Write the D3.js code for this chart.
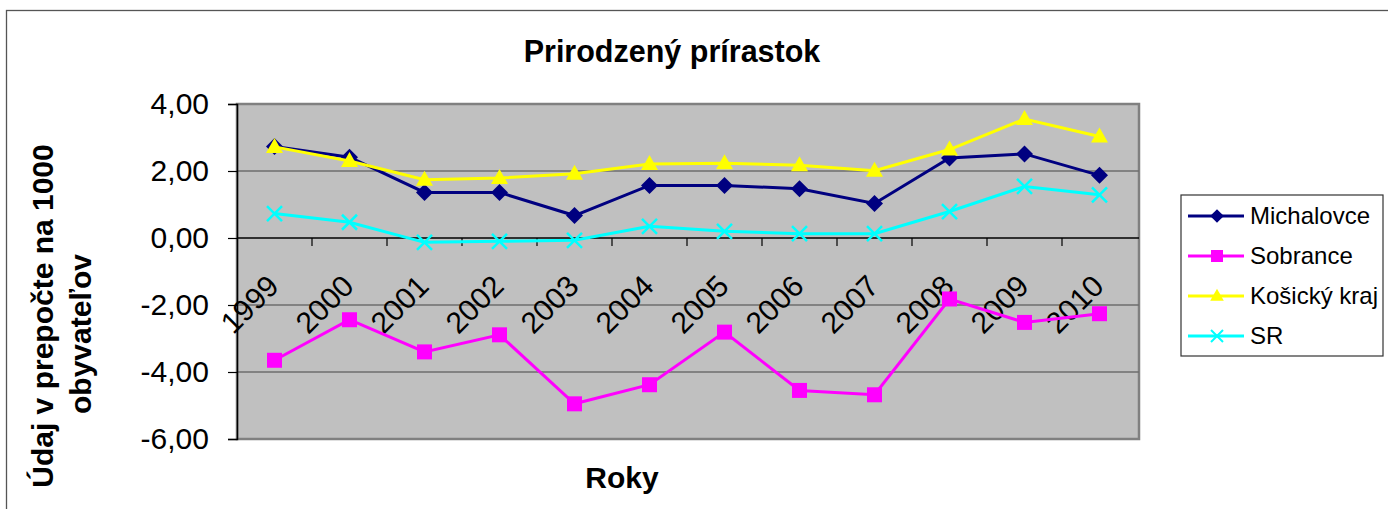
<!DOCTYPE html>
<html>
<head>
<meta charset="utf-8">
<script src="https://cdn.jsdelivr.net/npm/d3@7"></script>
<style>
  body { margin: 0; background: #fff; }
  text { font-family: "Liberation Sans", Arial, sans-serif; }
</style>
</head>
<body>
<svg width="1388" height="509"></svg>
<script>
// data
var years = ["1999","2000","2001","2002","2003","2004","2005","2006","2007","2008","2009","2010"];
var michalovce = [2.73, 2.41, 1.36, 1.36, 0.67, 1.57, 1.57, 1.47, 1.03, 2.39, 2.51, 1.87];
var sobrance   = [-3.65, -2.44, -3.40, -2.89, -4.95, -4.38, -2.81, -4.55, -4.68, -1.82, -2.52, -2.26];
var kosicky    = [2.72, 2.30, 1.74, 1.79, 1.92, 2.21, 2.23, 2.17, 2.01, 2.64, 3.55, 3.03];
var sr         = [0.73, 0.47, -0.13, -0.10, -0.07, 0.35, 0.20, 0.13, 0.13, 0.79, 1.54, 1.29];
var yTicks = [-6, -4, -2, 0, 2, 4];

var series = [
  { name: "Michalovce", values: michalovce, color: "#000080", marker: "diamond" },
  { name: "Sobrance", values: sobrance, color: "#FF00FF", marker: "square" },
  { name: "Košický kraj", values: kosicky, color: "#FFFF00", marker: "triangle" },
  { name: "SR", values: sr, color: "#00FFFF", marker: "x" }
];

var svg = d3.select("svg");

var plot = { left: 237, top: 104, right: 1139, bottom: 439 };

var x = d3.scaleBand().domain(years).range([plot.left, plot.right - 2]);
var y = d3.scaleLinear().domain([-6, 4]).range([plot.bottom, plot.top]);
var fmt = function (d) { return d.toFixed(2).replace(".", ","); };

// chart frame
svg.append("rect")
  .attr("x", 6.5).attr("y", 10.5).attr("width", 1400).attr("height", 600)
  .attr("fill", "#fff").attr("stroke", "#555").attr("stroke-width", 1.3);

// plot area
svg.append("rect")
  .attr("x", plot.left).attr("y", plot.top)
  .attr("width", plot.right - plot.left).attr("height", plot.bottom - plot.top)
  .attr("fill", "#C0C0C0").attr("stroke", "#808080").attr("stroke-width", 2.5);

// gridlines
svg.append("g").selectAll("line")
  .data(yTicks.filter(function (d) { return d !== 0 && d !== 4 && d !== -6; }))
  .enter().append("line")
  .attr("x1", plot.left).attr("x2", plot.right)
  .attr("y1", function (d) { return y(d); }).attr("y2", function (d) { return y(d); })
  .attr("stroke", "#6e6e6e").attr("stroke-width", 1.5);

// y axis
var yAxis = svg.append("g")
  .attr("transform", "translate(" + plot.left + ",0)")
  .call(d3.axisLeft(y).tickValues(yTicks).tickFormat(fmt).tickSize(9).tickPadding(19));
yAxis.select(".domain").attr("stroke", "#000").attr("stroke-width", 1.5);
yAxis.selectAll(".tick line").attr("stroke", "#000").attr("stroke-width", 1.2);
yAxis.selectAll("text").attr("font-size", 30).attr("fill", "#000")
  .attr("font-family", "Liberation Sans, Arial, sans-serif");

// x axis at zero
var xAxis = svg.append("g")
  .attr("transform", "translate(0," + y(0) + ")");
xAxis.append("line")
  .attr("x1", plot.left).attr("x2", plot.right)
  .attr("stroke", "#000").attr("stroke-width", 1.5);
xAxis.selectAll(".tk")
  .data(years.slice(1))
  .enter().append("line")
  .attr("x1", function (d) { return x(d); }).attr("x2", function (d) { return x(d); })
  .attr("y1", 0).attr("y2", 8)
  .attr("stroke", "#000").attr("stroke-width", 1.2);
xAxis.selectAll("text")
  .data(years)
  .enter().append("text")
  .attr("transform", function (d) {
    return "translate(" + (x(d) + x.bandwidth() / 2 + 6) + ",50) rotate(-45)";
  })
  .attr("text-anchor", "end")
  .attr("font-size", 30)
  .text(function (d) { return d; });

// markers
function markerPath(type) {
  if (type === "diamond") return "M0,-8.5L8.5,0L0,8.5L-8.5,0Z";
  if (type === "square") return "M-7.5,-7.5H7.5V7.5H-7.5Z";
  if (type === "triangle") return "M0,-9L8.5,6L-8.5,6Z";
  return "M-7.5,-7.5L7.5,7.5M-7.5,7.5L7.5,-7.5";
}

var line = d3.line()
  .x(function (d, i) { return x(years[i]) + x.bandwidth() / 2; })
  .y(function (d) { return y(d); });

series.forEach(function (s) {
  var g = svg.append("g");
  g.append("path")
    .attr("d", line(s.values))
    .attr("fill", "none").attr("stroke", s.color).attr("stroke-width", 3);
  g.selectAll("path.m")
    .data(s.values)
    .enter().append("path")
    .attr("class", "m")
    .attr("transform", function (d, i) {
      return "translate(" + (x(years[i]) + x.bandwidth() / 2) + "," + y(d) + ")";
    })
    .attr("d", markerPath(s.marker))
    .attr("fill", s.marker === "x" ? "none" : s.color)
    .attr("stroke", s.marker === "x" ? s.color : "none")
    .attr("stroke-width", 2.5);
});

// title
svg.append("text")
  .attr("x", 672).attr("y", 62)
  .attr("text-anchor", "middle")
  .attr("font-size", 30.5).attr("font-weight", "bold")
  .text("Prirodzený prírastok");

// axis titles
svg.append("text")
  .attr("x", 622).attr("y", 488)
  .attr("text-anchor", "middle")
  .attr("font-size", 30).attr("font-weight", "bold")
  .text("Roky");

svg.append("text")
  .attr("transform", "translate(53,316) rotate(-90)")
  .attr("text-anchor", "middle")
  .attr("font-size", 30).attr("font-weight", "bold")
  .text("Údaj v prepočte na 1000");
svg.append("text")
  .attr("transform", "translate(91,334) rotate(-90)")
  .attr("text-anchor", "middle")
  .attr("font-size", 30).attr("font-weight", "bold")
  .text("obyvateľov");

// legend
var legend = svg.append("g").attr("transform", "translate(1181,195)");
legend.append("rect")
  .attr("width", 202).attr("height", 161)
  .attr("fill", "#fff").attr("stroke", "#333").attr("stroke-width", 1.2);

var item = legend.selectAll("g.item")
  .data(series)
  .enter().append("g")
  .attr("class", "item")
  .attr("transform", function (d, i) { return "translate(0," + (21 + i * 40) + ")"; });
item.append("line")
  .attr("x1", 7).attr("x2", 63)
  .attr("stroke", function (d) { return d.color; }).attr("stroke-width", 3);
item.append("path")
  .attr("transform", "translate(36,0) scale(0.8)")
  .attr("d", function (d) { return markerPath(d.marker); })
  .attr("fill", function (d) { return d.marker === "x" ? "none" : d.color; })
  .attr("stroke", function (d) { return d.marker === "x" ? d.color : "none"; })
  .attr("stroke-width", 2.5);
item.append("text")
  .attr("x", 69).attr("dy", "0.35em")
  .attr("font-size", 24)
  .text(function (d) { return d.name; });
</script>
</body>
</html>
